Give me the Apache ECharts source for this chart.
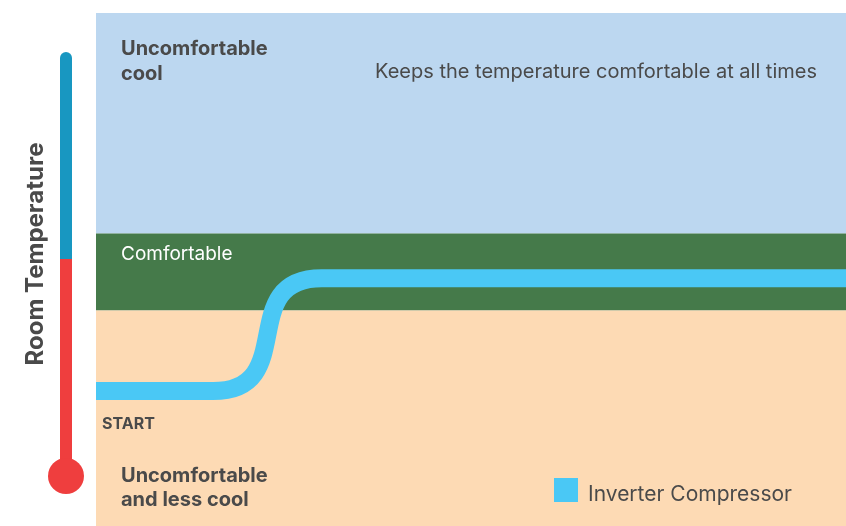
<!DOCTYPE html>
<html>
<head>
<meta charset="utf-8">
<script src="https://cdn.jsdelivr.net/npm/echarts@6/dist/echarts.min.js"></script>
<style>
  html, body { margin: 0; padding: 0; background: #fff; }
  #chart { width: 846px; height: 526px; }
</style>
</head>
<body>
<div id="chart"></div>
<script>
// temperature zones (y axis, 0..100 scale)
const zoneNames = ["Uncomfortable\ncool", "Comfortable", "Uncomfortable\nand less cool"];
const zoneBounds = [[57, 100], [42, 57], [0, 42]];
const zoneColors = ["#bcd7f0", "#457a4a", "#fddab4"];

// inverter compressor: flat start, S-shaped rise, flat in the comfortable zone
const timeVals = [0, 15.6, 30.1, 100];
const tempVals = [26.3, 26.3, 48.3, 48.3];

const FONT = "Inter";
const TEXT = "#4a4a4a";

function buildZones() {
  return zoneNames.map((name, i) => {
    const light = i === 1;
    return [
      {
        yAxis: zoneBounds[i][1],
        itemStyle: { color: zoneColors[i] },
        label: {
          show: i !== 2,
          position: light ? [25, 11] : [25, 23],
          color: light ? "#fff" : TEXT,
          fontFamily: FONT,
          fontSize: light ? 19 : 20,
          fontWeight: light ? "normal" : "bold",
          lineHeight: light ? 19 : 25,
          formatter: name,
        },
      },
      { yAxis: zoneBounds[i][0] },
    ];
  });
}

function chartInit() {
  const chart = echarts.init(document.getElementById("chart"));
  const data = timeVals.map((t, i) => [t, tempVals[i]]);

  const options = {
    animation: false,
    title: {
      text: "Keeps the temperature comfortable at all times",
      left: 370,
      top: 57,
      textStyle: { color: TEXT, fontFamily: FONT, fontSize: 20, fontWeight: "normal" },
    },
    grid: { left: 96, right: 0, top: 13, bottom: 0 },
    xAxis: { type: "value", min: 0, max: 100, show: false },
    yAxis: { type: "value", min: 0, max: 100, show: false },
    legend: {
      left: 549,
      top: 473,
      itemWidth: 24,
      itemHeight: 24,
      data: [{ name: "Inverter Compressor", icon: "rect" }],
      formatter: "{t|{name}}",
      textStyle: {
        rich: {
          t: {
            color: TEXT, fontFamily: FONT, fontSize: 21,
            lineHeight: 30, verticalAlign: "bottom", padding: [0, 0, 0, 5],
          },
        },
      },
    },
    series: [
      {
        name: "Inverter Compressor",
        type: "line",
        data,
        smooth: 0.8,
        smoothMonotone: "x",
        symbol: "none",
        itemStyle: { color: "#4ac8f5" },
        lineStyle: { width: 18, color: "#4ac8f5", cap: "butt", join: "round" },
        z: 5,
        markArea: {
          silent: true,
          data: buildZones(),
        },
      },
    ],
    graphic: [
      { type: "rect", shape: { x: 60, y: 52, width: 12, height: 210, r: [6, 6, 0, 0] }, style: { fill: "#1897c1" } },
      { type: "rect", shape: { x: 60, y: 259, width: 12, height: 215 }, style: { fill: "#ef3e3e" } },
      { type: "circle", shape: { cx: 66, cy: 476, r: 18 }, style: { fill: "#ef3e3e" } },
      {
        type: "text", x: 36, y: 254, rotation: Math.PI / 2,
        style: { text: "Room Temperature", fill: TEXT, font: "bold 24px " + FONT, align: "center", verticalAlign: "middle" },
      },
      {
        type: "text", x: 102, y: 424, z: 10,
        style: { text: "START", fill: TEXT, font: "bold 16px " + FONT, verticalAlign: "middle" },
      },
      {
        type: "text", x: 121, y: 464, z: 10,
        style: { text: zoneNames[2], fill: TEXT, font: "bold 20px " + FONT, lineHeight: 24, verticalAlign: "top" },
      },
    ],
  };

  chart.setOption(options);
}

chartInit();
</script>
</body>
</html>
